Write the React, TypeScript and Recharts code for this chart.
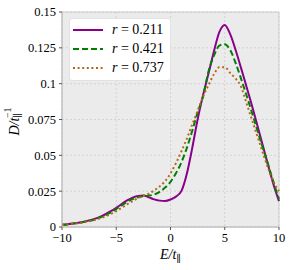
import { CartesianGrid, Legend, Line, LineChart, ReferenceArea, XAxis, YAxis } from "recharts";

// energy grid E/t_par
const energies = [
  -10, -9.5, -9, -8.5, -8, -7.5, -7, -6.5, -6, -5.5, -5, -4.5, -4, -3.5, -3, -2.5, -2, -1.5, -1, -0.5, 0,
  0.5, 1, 1.5, 2, 2.5, 3, 3.5, 4, 4.5, 5, 5.5, 6, 6.5, 7, 7.5, 8, 8.5, 9, 9.5, 10,
];

// density of states
const dosR211 = [
  0.0015, 0.0019, 0.0024, 0.003, 0.0037, 0.0046, 0.0057, 0.0071, 0.0089, 0.011, 0.0134, 0.016, 0.0185,
  0.0205, 0.0217, 0.0219, 0.0207, 0.0193, 0.0184, 0.0182, 0.0192, 0.0212, 0.025, 0.037, 0.055, 0.075,
  0.092, 0.107, 0.1225, 0.136, 0.141, 0.1345, 0.1235, 0.111, 0.098, 0.085, 0.071, 0.057, 0.043, 0.0295,
  0.018,
];
const dosR421 = [
  0.0015, 0.0018, 0.0023, 0.0029, 0.0035, 0.0043, 0.0053, 0.0066, 0.0082, 0.0102, 0.0125, 0.015, 0.0175,
  0.0195, 0.0207, 0.0215, 0.0219, 0.0227, 0.0245, 0.0275, 0.0315, 0.0375, 0.045, 0.055, 0.067, 0.08,
  0.091, 0.1085, 0.1195, 0.1265, 0.1275, 0.1235, 0.1145, 0.1035, 0.092, 0.08, 0.0675, 0.0555, 0.0435,
  0.031, 0.0195,
];
const dosR737 = [
  0.0015, 0.0018, 0.0022, 0.0027, 0.0033, 0.004, 0.0049, 0.006, 0.0074, 0.0091, 0.0111, 0.0134, 0.0158,
  0.0181, 0.0201, 0.0218, 0.0232, 0.0255, 0.0283, 0.032, 0.0375, 0.0445, 0.0527, 0.0615, 0.0715, 0.081,
  0.091, 0.099, 0.1065, 0.1115, 0.1115, 0.1075, 0.1035, 0.098, 0.0865, 0.075, 0.0635, 0.052, 0.041,
  0.0315, 0.025,
];

const rValues = ["0.211", "0.421", "0.737"];
const xTicks = [-10, -5, 0, 5, 10];
const yTicks = [0, 0.025, 0.05, 0.075, 0.1, 0.125, 0.15];

const SERIF = "'Liberation Serif', 'DejaVu Serif', serif";

const SERIES = [
  { key: "r211", color: "#8b008b", dash: undefined as string | undefined },
  { key: "r421", color: "#008000", dash: "6 3" },
  { key: "r737", color: "#b5651d", dash: "2 2.6" },
];

const data = energies.map((e, i) => ({
  E: e,
  r211: dosR211[i],
  r421: dosR421[i],
  r737: dosR737[i],
}));

function LegendBox() {
  return (
    <div
      style={{
        background: "#fff",
        border: "1px solid #e2e2e2",
        borderRadius: 3,
        padding: "1px 6px 3px 3px",
        fontFamily: SERIF,
        fontSize: 14,
        color: "#000",
      }}
    >
      {SERIES.map((s, i) => (
        <div key={s.key} style={{ display: "flex", alignItems: "center", height: 19 }}>
          <svg width={30} height={6}>
            <line x1={0} x2={30} y1={3} y2={3} stroke={s.color} strokeWidth={2} strokeDasharray={s.dash} />
          </svg>
          <span style={{ marginLeft: 9, whiteSpace: "nowrap" }}>
            <i>r</i> = {rValues[i]}
          </span>
        </div>
      ))}
    </div>
  );
}

function YLabel(props: any) {
  const vb = props.viewBox || {};
  const x = vb.x + 14;
  const y = vb.y + vb.height / 2 + 2;
  return (
    <text
      x={x}
      y={y}
      transform={`rotate(-90 ${x} ${y})`}
      textAnchor="middle"
      dominantBaseline="central"
      fontFamily={SERIF}
      fontSize={14}
      fill="#000"
    >
      <tspan fontStyle="italic">D/t</tspan>
      <tspan fontSize={10} dy={3}>∥</tspan>
      <tspan fontSize={10} dx={-5} dy={-10}>−1</tspan>
    </text>
  );
}

function XLabel(props: any) {
  const vb = props.viewBox || {};
  const x = vb.x + vb.width / 2;
  const y = vb.y + 32;
  return (
    <text x={x} y={y} textAnchor="middle" fontFamily={SERIF} fontSize={14} fill="#000">
      <tspan fontStyle="italic">E/t</tspan>
      <tspan fontSize={10} dy={3}>∥</tspan>
    </text>
  );
}

const fmtX = (v: number) => String(v).replace("-", "\u2212");

export default function App() {
  return (
    <div style={{ position: "absolute", left: 0, top: 0 }}>
      <LineChart width={293} height={270} data={data} margin={{ top: 12, right: 14, bottom: 0, left: 0 }}>
        <CartesianGrid fill="#ebebeb" stroke="#d2d2d2" strokeDasharray="2 2" />
        <ReferenceArea x1={-10} x2={10} y1={0} y2={0.15} fill="none" stroke="#cccccc" strokeWidth={1} />
        <XAxis
          dataKey="E"
          type="number"
          domain={[-10, 10]}
          ticks={xTicks}
          tickFormatter={fmtX}
          height={43}
          tickSize={3}
          tickMargin={3}
          axisLine={{ stroke: "#bbbbbb" }}
          tickLine={{ stroke: "#555" }}
          tick={{ fill: "#000", fontFamily: SERIF, fontSize: 12.5 }}
          label={<XLabel />}
        />
        <YAxis
          type="number"
          domain={[0, 0.15]}
          ticks={yTicks}
          width={62}
          tickSize={3}
          tickMargin={3}
          axisLine={{ stroke: "#bbbbbb" }}
          tickLine={{ stroke: "#555" }}
          tick={{ fill: "#000", fontFamily: SERIF, fontSize: 12.5 }}
          label={<YLabel />}
        />
        {SERIES.map((s, i) => (
          <Line
            key={s.key}
            type="monotone"
            dataKey={s.key}
            name={`r = ${rValues[i]}`}
            stroke={s.color}
            strokeWidth={2}
            strokeDasharray={s.dash}
            dot={false}
            isAnimationActive={false}
          />
        ))}
        <Legend
          layout="vertical"
          align="center"
          verticalAlign="middle"
          content={() => <LegendBox />}
          wrapperStyle={{ left: 69, top: 18, width: "auto" }}
        />
      </LineChart>
    </div>
  );
}
